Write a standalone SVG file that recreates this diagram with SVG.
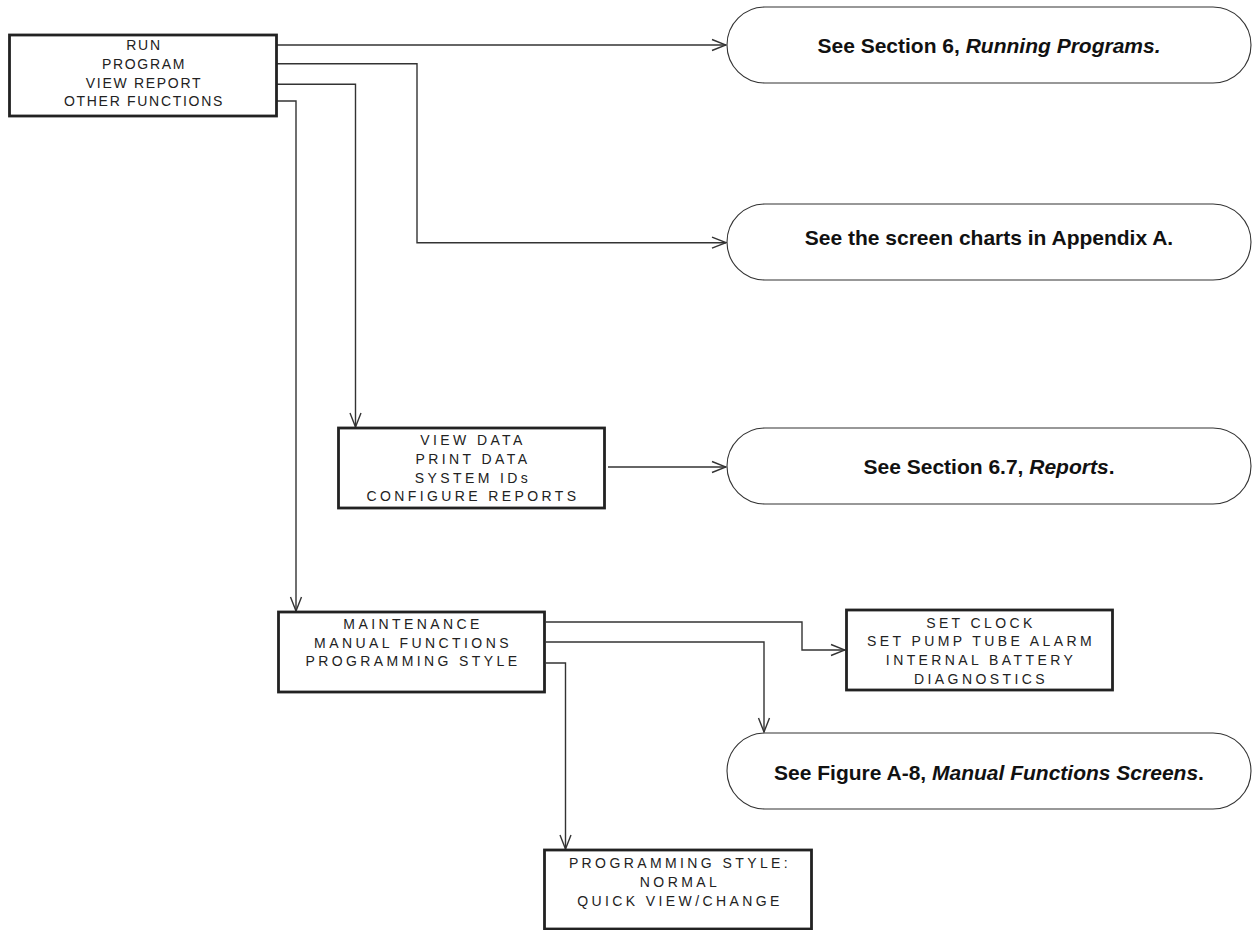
<svg xmlns="http://www.w3.org/2000/svg" width="1252" height="930" viewBox="0 0 1252 930">
<style>
.box{fill:#fff;stroke:#222;stroke-width:2.8}
.pill{fill:#fff;stroke:#333;stroke-width:1.1}
.conn{fill:none;stroke:#333;stroke-width:1.4}
.t1{font-family:"Liberation Sans",Arial,sans-serif;font-size:14px;letter-spacing:1.7px;fill:#222;text-anchor:middle}
.t2{font-family:"Liberation Sans",Arial,sans-serif;font-size:14px;letter-spacing:3.4px;fill:#222;text-anchor:middle}
.tb{font-family:"Liberation Sans",Arial,sans-serif;font-size:21px;font-weight:bold;fill:#111;text-anchor:middle}
.it{font-style:italic}
</style>
<defs>
<marker id="arr" viewBox="-15 -7 16 14" refX="0" refY="0" markerWidth="16" markerHeight="14" markerUnits="userSpaceOnUse" orient="auto">
<path d="M-14,-5.5 L0,0 L-14,5.5" fill="none" stroke="#333" stroke-width="1.4"/>
</marker>
</defs>

<g id="connectors">
<path class="conn" d="M277,45 H726" marker-end="url(#arr)"/>
<path class="conn" d="M277,63.7 H417 V242.7 H726" marker-end="url(#arr)"/>
<path class="conn" d="M277,84.3 H355.5 V427" marker-end="url(#arr)"/>
<path class="conn" d="M277,101 H296 V611" marker-end="url(#arr)"/>
<path class="conn" d="M608,467 H726" marker-end="url(#arr)"/>
<path class="conn" d="M546,622 H802 V650 H845" marker-end="url(#arr)"/>
<path class="conn" d="M546,642 H764 V732" marker-end="url(#arr)"/>
<path class="conn" d="M546,663 H565.5 V849" marker-end="url(#arr)"/>
</g>

<g id="node-main">
<rect class="box" x="9.5" y="35" width="267" height="81"/>
<text class="t1" x="144" y="49.5">RUN</text>
<text class="t1" x="144" y="68.5">PROGRAM</text>
<text class="t1" x="144" y="87.5">VIEW REPORT</text>
<text class="t1" x="144" y="106">OTHER FUNCTIONS</text>
</g>

<g id="node-running">
<rect class="pill" x="727" y="7" width="524" height="76" rx="38" ry="38"/>
<text class="tb" x="989" y="53">See Section 6, <tspan class="it">Running Programs.</tspan></text>
</g>

<g id="node-appendix">
<rect class="pill" x="727" y="204" width="524" height="76" rx="38" ry="38"/>
<text class="tb" x="989" y="245">See the screen charts in Appendix A.</text>
</g>

<g id="node-viewdata">
<rect class="box" x="338.5" y="428" width="266" height="80"/>
<text class="t2" x="473" y="444.5">VIEW DATA</text>
<text class="t2" x="473" y="463.5">PRINT DATA</text>
<text class="t2" x="473" y="482.5">SYSTEM IDs</text>
<text class="t2" x="473" y="500.5">CONFIGURE REPORTS</text>
</g>

<g id="node-reports">
<rect class="pill" x="727" y="428" width="524" height="76" rx="38" ry="38"/>
<text class="tb" x="989" y="474">See Section 6.7, <tspan class="it">Reports</tspan>.</text>
</g>

<g id="node-maintenance">
<rect class="box" x="278.5" y="612" width="266" height="80"/>
<text class="t2" x="413" y="628.5">MAINTENANCE</text>
<text class="t2" x="413" y="647.5">MANUAL FUNCTIONS</text>
<text class="t2" x="413" y="665.5">PROGRAMMING STYLE</text>
</g>

<g id="node-setclock">
<rect class="box" x="846.5" y="610" width="266" height="80"/>
<text class="t2" x="981" y="627.5">SET CLOCK</text>
<text class="t2" x="981" y="645.5">SET PUMP TUBE ALARM</text>
<text class="t2" x="981" y="664.5">INTERNAL BATTERY</text>
<text class="t2" x="981" y="683.5">DIAGNOSTICS</text>
</g>

<g id="node-manualfunctions">
<rect class="pill" x="727" y="733" width="524" height="76" rx="38" ry="38"/>
<text class="tb" x="989" y="779.5">See Figure A-8, <tspan class="it">Manual Functions Screens</tspan>.</text>
</g>

<g id="node-progstyle">
<rect class="box" x="544.5" y="850" width="267" height="79"/>
<text class="t2" x="680" y="867.5">PROGRAMMING STYLE:</text>
<text class="t2" x="680" y="886.5">NORMAL</text>
<text class="t2" x="680" y="905.5">QUICK VIEW/CHANGE</text>
</g>
</svg>
